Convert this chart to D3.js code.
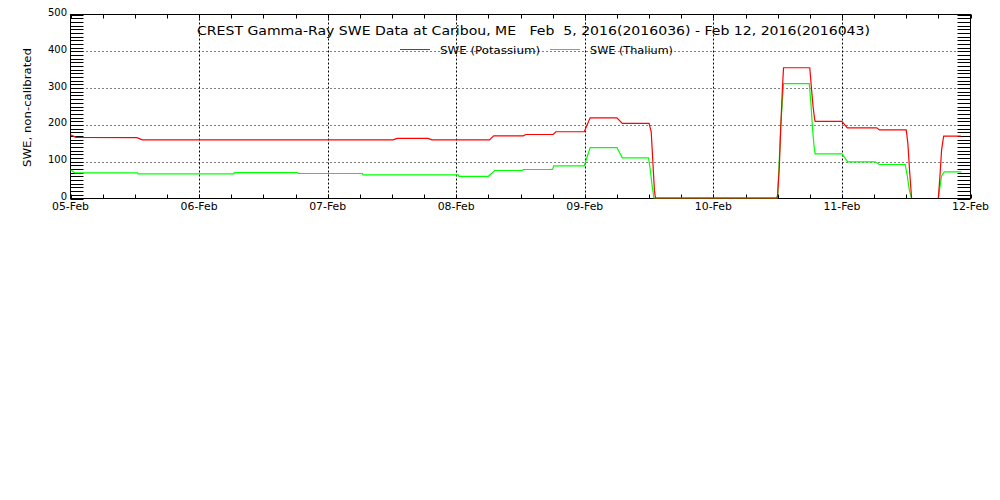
<!DOCTYPE html>
<meta charset="utf-8">
<body style="margin:0;background:#fff">

<svg width='1000' height='500'></svg>

<script type="text/javascript" src="https://d3js.org/d3.v7.min.js"></script>
<script>

// hours since 05-Feb 00:00, value
var potassium = [
  [0,172],[1,165],[12.4,164],[13.4,158],[60.2,158],[61,162],[66.7,162],[67.5,158],
  [78.2,158],[79,169],[84.5,169],[85,172.5],[90.1,172.5],[90.6,180],[95.9,180],[97,218],
  [102,218],[103,203],[108,203],[108.4,180],[108.7,100],[109,20],[109.2,0],
  [131.9,0],[132,10],[132.3,80],[132.6,200],[132.9,300],[133.1,354],
  [138,354],[138.3,300],[138.6,250],[138.9,215],[139,208],[144,208],[145,190.6],
  [150.5,190.6],[151,185],[156,185],[156.3,150],[156.6,80],[156.9,20],[157,0],
  [157.1,null],
  [162,0],[162.3,60],[162.6,130],[162.9,160],[163,168],[166.2,168]
];

var thalium = [
  [0,77],[0.8,68.4],[12.5,68.4],[12.6,65.8],[30.5,65.8],[30.6,69],[42.4,69],[42.5,66.6],
  [54.5,66.6],[54.6,63],[72.4,63],[72.5,59],[78,59],[79.2,74.7],[84.4,74.7],[84.5,77.4],
  [90,77.4],[90.2,87.5],[95.9,87.5],[97,137],[102,137],[103,109],[107.9,109],[108.2,80],
  [108.6,30],[108.9,0],
  [131.9,0],[132,10],[132.3,100],[132.6,200],[133,290],[133.1,311],
  [137.9,311],[138.2,260],[138.5,190],[138.8,140],[139,120],[144,120],[145.1,98.4],
  [150.2,98.4],[151,91],[155.8,91],[156.2,60],[156.6,20],[157,0],
  [157.1,null],
  [162,0],[162.3,30],[162.6,60],[163.1,71],[166.3,71]
];

var yTicks = [0, 100, 200, 300, 400, 500];
var title = 'CREST Gamma-Ray SWE Data at Caribou, ME   Feb  5, 2016(2016036) - Feb 12, 2016(2016043)';
var seriesNames = ['SWE (Potassium)', 'SWE (Thalium)'];
var seriesColors = ['#ff0000', '#00ff00'];

var svg = d3.select('svg');
var font = "'DejaVu Sans', sans-serif";

var pl = 70.5, pr = 970.5, pt = 14.5, pb = 198.5;
var t0 = new Date(Date.UTC(2016, 1, 5)), t1 = new Date(Date.UTC(2016, 1, 12));

var x = d3.scaleUtc().domain([t0, t1]).range([pl, pr]);
var y = d3.scaleLinear().domain([0, 500]).range([pb, pt]);

function hrs(h) { return new Date(t0.getTime() + h * 3600000); }

// grid
var days = d3.utcDay.range(d3.utcDay.offset(t0, 1), t1);
svg.append('g').selectAll('line').data(days).join('line')
  .attr('x1', d => Math.round(x(d)) + 0.5).attr('x2', d => Math.round(x(d)) + 0.5)
  .attr('y1', pt).attr('y2', pb)
  .attr('stroke', '#000').attr('stroke-dasharray', '2,2');
svg.append('g').selectAll('line').data(yTicks.slice(1, -1)).join('line')
  .attr('x1', pl).attr('x2', pr)
  .attr('y1', d => Math.round(y(d)) + 0.5).attr('y2', d => Math.round(y(d)) + 0.5)
  .attr('stroke', '#000').attr('stroke-dasharray', '1,3');

// minor ticks
var minorY = d3.range(0, 501, 10);
svg.append('g').selectAll('line').data(minorY).join('line')
  .attr('x1', pl).attr('x2', pl + 13)
  .attr('y1', d => Math.round(y(d)) + 0.5).attr('y2', d => Math.round(y(d)) + 0.5)
  .attr('stroke', '#000');
svg.append('g').selectAll('line').data(minorY).join('line')
  .attr('x1', pr - 13).attr('x2', pr)
  .attr('y1', d => Math.round(y(d)) + 0.5).attr('y2', d => Math.round(y(d)) + 0.5)
  .attr('stroke', '#000');

var hours6 = d3.utcHour.every(6).range(t0, d3.utcHour.offset(t1, 1));
svg.append('g').selectAll('line').data(hours6).join('line')
  .attr('x1', d => Math.round(x(d)) + 0.5).attr('x2', d => Math.round(x(d)) + 0.5)
  .attr('y1', pb).attr('y2', pb - 4)
  .attr('stroke', '#000');
svg.append('g').selectAll('line').data(hours6).join('line')
  .attr('x1', d => Math.round(x(d)) + 0.5).attr('x2', d => Math.round(x(d)) + 0.5)
  .attr('y1', pt).attr('y2', pt + 4)
  .attr('stroke', '#000');

// frame
svg.append('rect')
  .attr('x', pl).attr('y', pt)
  .attr('width', pr - pl).attr('height', pb - pt)
  .attr('fill', 'none').attr('stroke', '#000');

// axis labels
svg.append('g').selectAll('text').data(yTicks).join('text')
  .attr('x', 67).attr('y', d => y(d) - 2)
  .attr('dy', '0.35em')
  .attr('text-anchor', 'end')
  .style('font', '10px ' + font)
  .text(d => d);

var fmt = d3.utcFormat('%d-%b');
svg.append('g').selectAll('text').data(d3.utcDay.range(t0, d3.utcDay.offset(t1, 1))).join('text')
  .attr('x', d => x(d)).attr('y', 209.5)
  .attr('text-anchor', 'middle')
  .attr('textLength', 37).attr('lengthAdjust', 'spacingAndGlyphs')
  .style('font', '10px ' + font)
  .text(d => fmt(d));

svg.append('text')
  .attr('transform', 'translate(31,107.5) rotate(-90)')
  .attr('text-anchor', 'middle')
  .attr('textLength', 119).attr('lengthAdjust', 'spacingAndGlyphs')
  .style('font', '10.5px ' + font)
  .text('SWE, non-calibrated');

// title
svg.append('text')
  .attr('x', 533.5).attr('y', 35)
  .attr('text-anchor', 'middle')
  .attr('textLength', 673).attr('lengthAdjust', 'spacingAndGlyphs')
  .style('font', '12px ' + font)
  .style('white-space', 'pre')
  .text(title);

// legend
var legX = [400, 550], legTextW = [100, 83];
seriesNames.forEach(function(name, i) {
  svg.append('line')
    .attr('x1', legX[i]).attr('x2', legX[i] + 30)
    .attr('y1', 49.5).attr('y2', 49.5)
    .attr('stroke', seriesColors[i]);
  svg.append('text')
    .attr('x', legX[i] + 40).attr('y', 54)
    .attr('textLength', legTextW[i]).attr('lengthAdjust', 'spacingAndGlyphs')
    .style('font', '10px ' + font)
    .text(name);
});

// series
var line = d3.line()
  .defined(d => d[1] !== null)
  .x(d => x(hrs(d[0])))
  .y(d => y(d[1]) - 0.5);

[thalium, potassium].forEach(function(data, i) {
  svg.append('path')
    .datum(data)
    .attr('d', line)
    .attr('fill', 'none')
    .attr('stroke', seriesColors[1 - i])
    .attr('stroke-width', 1.2);
});

</script>
